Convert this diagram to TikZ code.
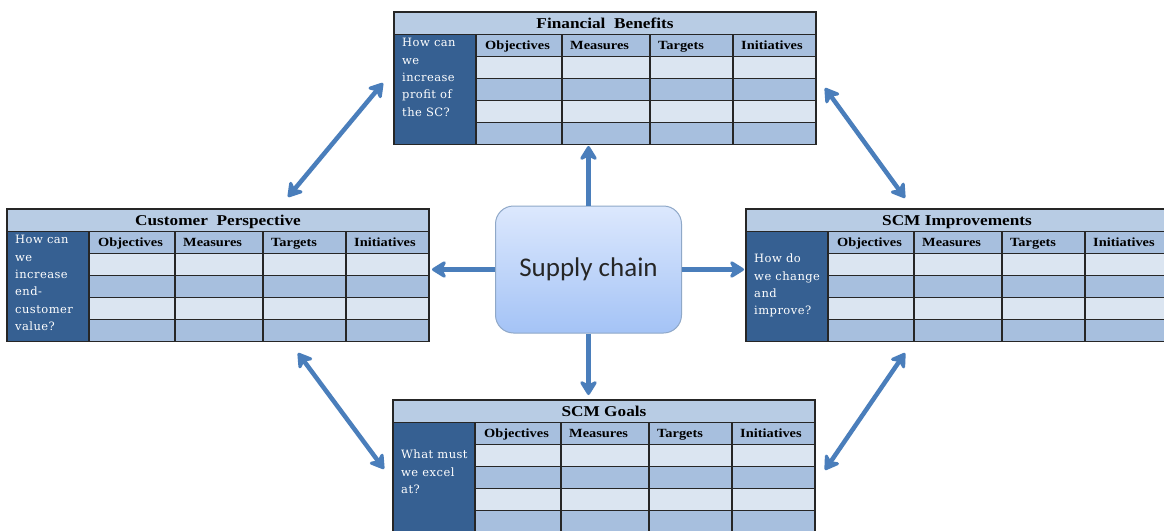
\documentclass[tikz,border=0pt]{standalone}
\usepackage{fontspec}
\usetikzlibrary{arrows.meta}
\setmainfont{Liberation Serif}
\newfontfamily\cardfont[FakeStretch=1.15]{Liberation Serif}
\newfontfamily\askfont[LetterSpace=4]{DejaVu Serif}
\newfontfamily\boxfont{Carlito}

\definecolor{titlefill}{HTML}{B8CCE4}
\definecolor{midfill}{HTML}{A7BFDE}
\definecolor{lightfill}{HTML}{DBE5F1}
\definecolor{darkfill}{HTML}{366092}
\definecolor{gridline}{HTML}{262626}
\definecolor{arrowblue}{HTML}{4A7EBB}
\definecolor{boxtop}{HTML}{DCE8FD}
\definecolor{boxbottom}{HTML}{A4C3F6}
\definecolor{boxedge}{HTML}{8FA8C8}

\tikzset{
  gridpen/.style={draw=gridline, line width=1.2pt},
  cardtitle/.style={font=\cardfont\bfseries\fontsize{15}{18}\selectfont, anchor=base, inner sep=0pt},
  cardhead/.style={font=\cardfont\bfseries\fontsize{12.5}{15}\selectfont, anchor=base west, inner sep=0pt},
  cardask/.style={font=\askfont\fontsize{11.5}{17.3}\selectfont, text=white, align=left, anchor=north west, inner sep=0pt},
  bluetip/.tip={Stealth[length=17pt,width=21pt,inset=5pt,round]},
  linkarrow/.style={draw=arrowblue, line width=4.5pt, bluetip-bluetip},
  outarrow/.style={draw=arrowblue, line width=4.5pt, -bluetip},
  hubbox/.style={rounded corners=18pt, top color=boxtop, bottom color=boxbottom,
    draw=boxedge, line width=1pt, minimum width=186pt, minimum height=127pt,
    font=\boxfont\fontsize{27}{30}\selectfont, text=black!85},
}

% One scorecard table: #1 name, #2/#3 top-left corner, #4 title, #5 question, #6 question top
\newcommand\scorecard[6]{%
\begin{scope}[shift={(#2,#3)}]
  \fill[titlefill] (0,0) rectangle (422,22.5);
  \fill[darkfill] (0,22.5) rectangle (82,132.5);
  \fill[midfill] (82,22.5) rectangle (422,44.5);
  \fill[lightfill] (82,44.5) rectangle (422,66.5);
  \fill[midfill] (82,66.5) rectangle (422,88.5);
  \fill[lightfill] (82,88.5) rectangle (422,110.5);
  \fill[midfill] (82,110.5) rectangle (422,132.5);
  \foreach \yy in {44.5,66.5,88.5,110.5} \draw[gridpen] (82,\yy) -- (422,\yy);
  \foreach \xx in {82,168,256,339} \draw[gridpen] (\xx,22.5) -- (\xx,132.5);
  \draw[gridpen] (0,22.5) -- (422,22.5);
  \draw[gridpen] (0,0) rectangle (422,132.5);
  \node[cardtitle] (#1-title) at (211,16.5) {#4};
  \node[cardhead] (#1-h1) at (91,37) {Objectives};
  \node[cardhead] (#1-h2) at (176,37) {Measures};
  \node[cardhead] (#1-h3) at (264,37) {Targets};
  \node[cardhead] (#1-h4) at (347,37) {Initiatives};
  \node[cardask] (#1-ask) at (8,#6) {#5};
\end{scope}}

\begin{document}
\begin{tikzpicture}[x=1pt,y=-1pt]
  \useasboundingbox (0,0) rectangle (1164,530);
  \fill[white] (0,0) rectangle (1164,530);
  \clip (0,0) rectangle (1164,530);

  \scorecard{fin}{394}{12}{Financial\ \ Benefits}{\strut How can\\we\\increase\\profit of\\the SC?}{22.5}
  \scorecard{cust}{7}{209}{Customer\ \ Perspective}{\strut How can\\we\\increase\\end-\\customer\\value?}{22.5}
  \scorecard{imp}{746}{209}{SCM Improvements}{\strut How do\\we change\\and\\improve?}{41.5}
  \scorecard{goal}{393}{400}{SCM Goals}{\strut What must\\we excel\\at?}{46.5}

  \node[hubbox] (sc) at (588.5,269.5) {Supply chain};

  % free ends of the connectors
  \coordinate (fin-in) at (588.5,146);
  \coordinate (goal-in) at (588.5,395);
  \coordinate (cust-in) at (432,269.5);
  \coordinate (imp-in) at (744,269.5);
  \coordinate (cust-ne) at (288,197);
  \coordinate (fin-sw) at (383,83);
  \coordinate (fin-se) at (825,88);
  \coordinate (imp-nw) at (905,198);
  \coordinate (cust-se) at (298,353);
  \coordinate (goal-nw) at (384,469);
  \coordinate (imp-sw) at (905,353);
  \coordinate (goal-ne) at (825,470);

  \draw[outarrow] (sc.north) -- (fin-in);
  \draw[outarrow] (sc.south) -- (goal-in);
  \draw[outarrow] (sc.west) -- (cust-in);
  \draw[outarrow] (sc.east) -- (imp-in);

  \draw[linkarrow] (cust-ne) -- (fin-sw);
  \draw[linkarrow] (fin-se) -- (imp-nw);
  \draw[linkarrow] (cust-se) -- (goal-nw);
  \draw[linkarrow] (imp-sw) -- (goal-ne);
\end{tikzpicture}
\end{document}
